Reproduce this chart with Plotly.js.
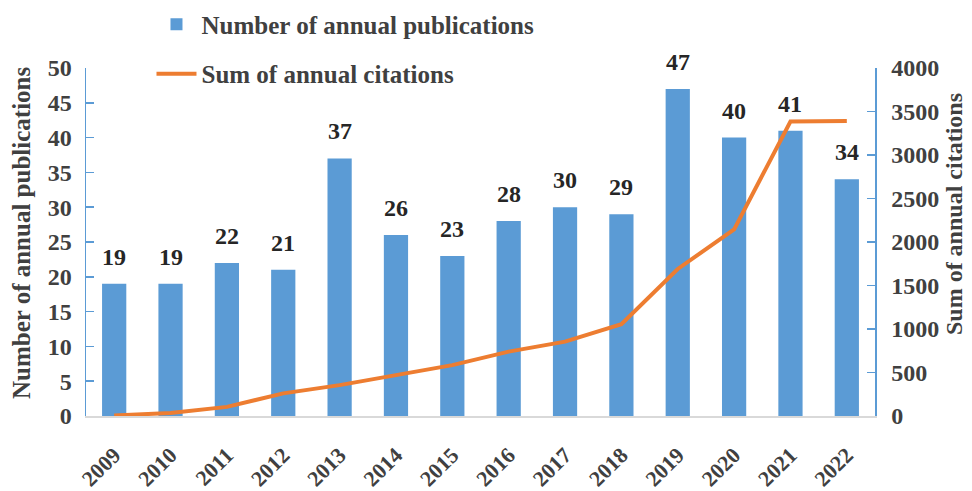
<!DOCTYPE html>
<html>
<head>
<meta charset="utf-8">
<script src="https://cdn.plot.ly/plotly-3.0.1.min.js"></script>
<style>html,body{margin:0;padding:0;background:#fff;}#chart{width:972px;height:491px;}</style>
</head>
<body>
<div id="chart"></div>
<script>
const years = ["2009","2010","2011","2012","2013","2014","2015","2016","2017","2018","2019","2020","2021","2022"];
const publications = [19,19,22,21,37,26,23,28,30,29,47,40,41,34];
const citations = [5,35,105,260,355,470,585,740,855,1055,1690,2145,3385,3390];
const leftTicks = [0,5,10,15,20,25,30,35,40,45,50];
const rightTicks = [0,500,1000,1500,2000,2500,3000,3500,4000];
const leftTitle = "Number of annual publications";
const rightTitle = "Sum of annual citations";

const FONT = "'Liberation Serif','Times New Roman',serif";
const TXT = "#404040";
const BLUE = "#5B9BD5";
const ORANGE = "#ED7D31";

const xIdx = years.map((_, i) => i);

const barTrace = {
  type: "bar", x: xIdx, y: publications, name: "<b>Number of annual publications</b>",
  marker: {color: BLUE, line: {width: 0}}, legendgroup: "a", yaxis: "y"
};
const lineTrace = {
  type: "scatter", mode: "lines", x: xIdx, y: citations, name: "<b>Sum of annual citations</b>",
  line: {color: ORANGE, width: 4}, legendgroup: "b", yaxis: "y2"
};

const annotations = xIdx.map(i => ({
  x: i, y: publications[i], xref: "x", yref: "y", text: "<b>" + publications[i] + "</b>",
  showarrow: false, yanchor: "bottom", yshift: 12,
  font: {family: FONT, size: 24, color: "#262626"}
}));
// axis titles placed as rotated text
annotations.push({
  x: -0.081, y: 0.526, xref: "paper", yref: "paper", text: "<b>" + leftTitle + "</b>",
  textangle: -90, showarrow: false, xanchor: "center", yanchor: "middle", borderpad: 0,
  font: {family: FONT, size: 25, color: TXT}
});
annotations.push({
  x: 1.1, y: 0.58, xref: "paper", yref: "paper", text: "<b>" + rightTitle + "</b>",
  textangle: -90, showarrow: false, xanchor: "center", yanchor: "middle", borderpad: 0,
  font: {family: FONT, size: 24, color: TXT}
});

const layout = {
  width: 972, height: 491,
  margin: {l: 86, r: 97, t: 68, b: 75, pad: 0, autoexpand: false},
  paper_bgcolor: "#fff", plot_bgcolor: "#fff",
  font: {family: FONT, color: TXT},
  bargap: 0.57,
  showlegend: true,
  legend: {x: 0.083, y: 0.997, xref: "paper", yref: "container", xanchor: "left", yanchor: "top", orientation: "v",
    tracegroupgap: 14, font: {family: FONT, size: 25, color: TXT}, bgcolor: "rgba(0,0,0,0)", itemwidth: 40},
  xaxis: {range: [-0.5, 13.5], tickvals: xIdx, ticktext: years.map(y => "<b>" + y + "</b>"),
    tickangle: -45, showgrid: false, zeroline: false,
    showline: true, linecolor: "#D9D9D9", linewidth: 1.5, ticks: "",
    tickfont: {family: FONT, size: 22, color: TXT}, ticklabelstandoff: 16, automargin: false},
  yaxis: {range: [0, 50], tickvals: leftTicks, ticktext: leftTicks.map(v => "<b>" + v + "</b>"),
    showgrid: false, zeroline: false,
    showline: true, linecolor: BLUE, linewidth: 1.5, ticks: "inside", ticklen: 8, tickcolor: BLUE, tickwidth: 1.5,
    tickfont: {family: FONT, size: 24, color: TXT}, ticklabelstandoff: 8,
    automargin: false},
  yaxis2: {range: [0, 4000], tickvals: rightTicks, ticktext: rightTicks.map(v => "<b>" + v + "</b>"),
    overlaying: "y", side: "right", showgrid: false, zeroline: false,
    showline: true, linecolor: BLUE, linewidth: 1.5, ticks: "inside", ticklen: 8, tickcolor: BLUE, tickwidth: 1.5,
    tickfont: {family: FONT, size: 24, color: TXT}, ticklabelstandoff: 10,
    automargin: false},
  annotations: annotations
};

Plotly.newPlot("chart", [barTrace, lineTrace], layout, {displayModeBar: false, staticPlot: true});
</script>
</body>
</html>
